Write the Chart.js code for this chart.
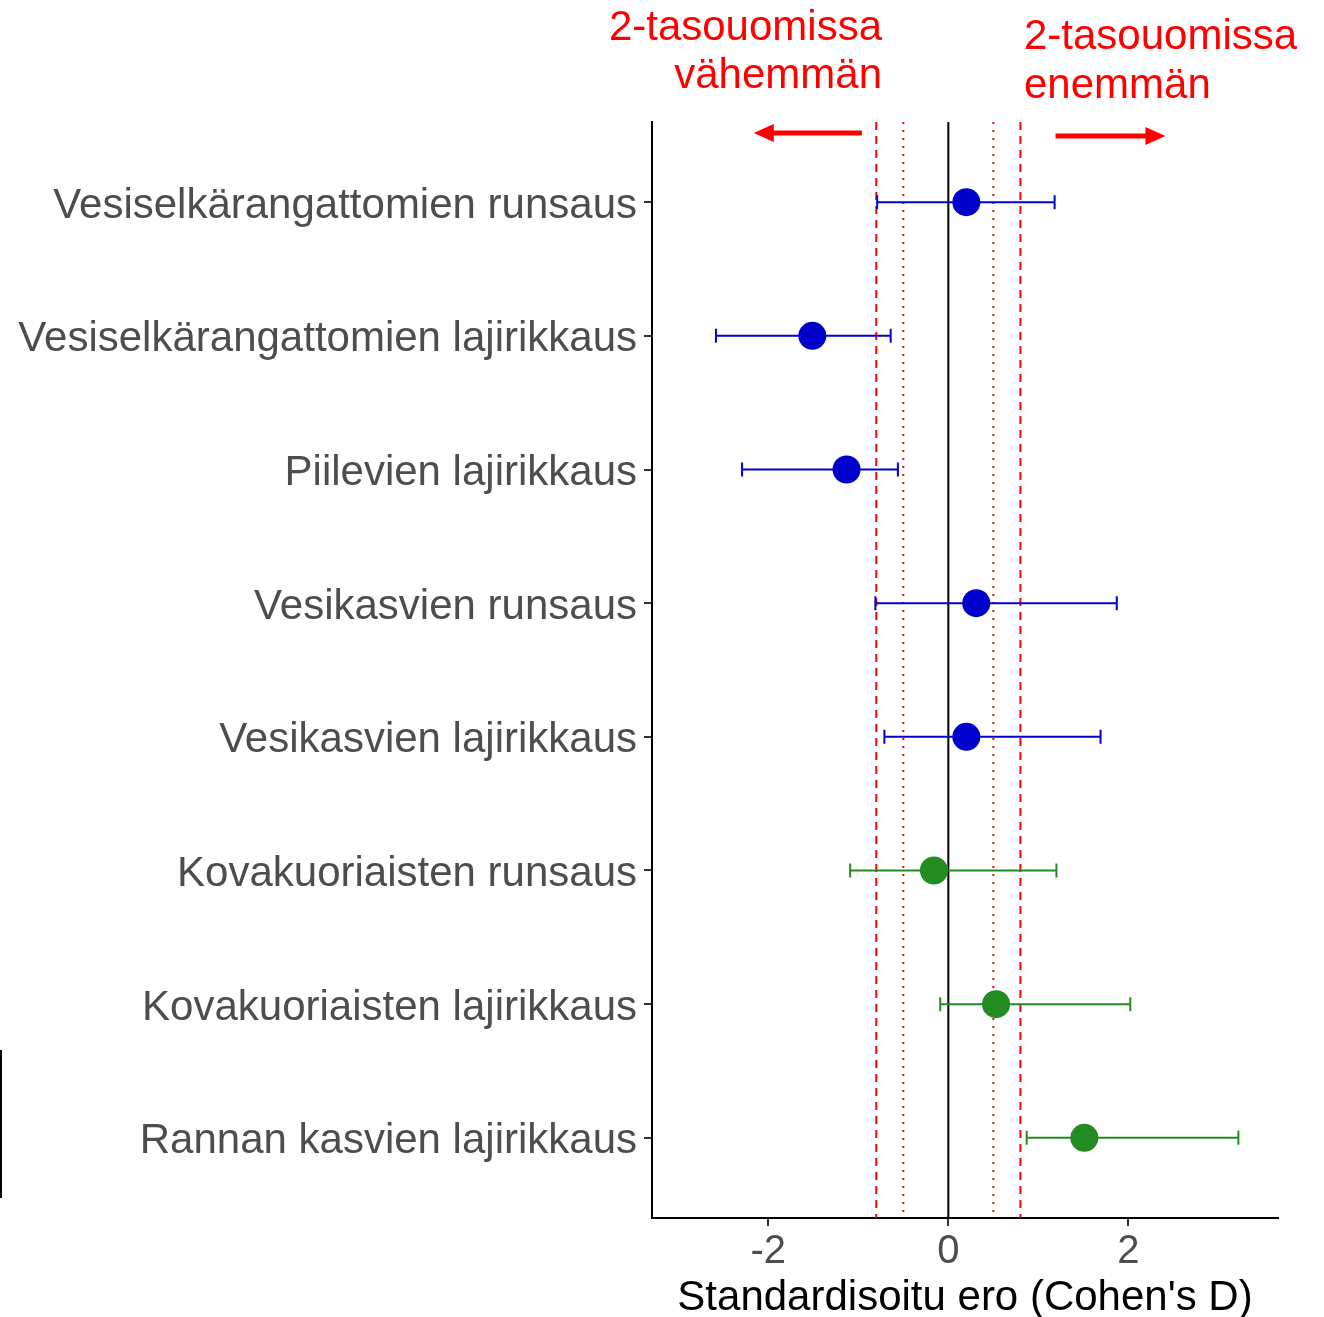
<!DOCTYPE html>
<html>
<head>
<meta charset="utf-8">
<script src="https://cdn.jsdelivr.net/npm/chart.js@4.4.0/dist/chart.umd.min.js"></script>
<style>
  body { margin: 0; background: #fff; }
  canvas { display: block; }
</style>
</head>
<body>
<canvas id="chart" width="1324" height="1317"></canvas>
<script>
// data
const categories = [
    "Vesiselkärangattomien runsaus",
    "Vesiselkärangattomien lajirikkaus",
    "Piilevien lajirikkaus",
    "Vesikasvien runsaus",
    "Vesikasvien lajirikkaus",
    "Kovakuoriaisten runsaus",
    "Kovakuoriaisten lajirikkaus",
    "Rannan kasvien lajirikkaus"
];
const effect = [0.20, -1.51, -1.13, 0.31, 0.20, -0.16, 0.53, 1.51];
const lower  = [-0.79, -2.58, -2.29, -0.81, -0.71, -1.09, -0.09, 0.87];
const upper  = [1.18, -0.64, -0.56, 1.87, 1.69, 1.20, 2.02, 3.22];
const group  = ["vesi", "vesi", "vesi", "vesi", "vesi", "ranta", "ranta", "ranta"];
const xTicks = [-2, 0, 2];
const dashedRefs = [-0.8, 0.8];
const dottedRefs = [-0.5, 0.5];

const groupColor = { vesi: "#0000CD", ranta: "#228B22" };
const FONT = "'Liberation Sans', Arial, sans-serif";

// reference lines + error bars, behind the points
const refLines = {
    id: "refLines",
    beforeDatasetsDraw(chart) {
        const { ctx, chartArea: a, scales: { x } } = chart;
        ctx.save();
        ctx.strokeStyle = "#ff0000";
        ctx.lineWidth = 2;
        ctx.setLineDash([8, 6]);
        dashedRefs.forEach(v => {
            const px = x.getPixelForValue(v);
            ctx.beginPath(); ctx.moveTo(px, a.top); ctx.lineTo(px, a.bottom); ctx.stroke();
        });
        ctx.setLineDash([2, 6]);
        dottedRefs.forEach(v => {
            const px = x.getPixelForValue(v);
            ctx.beginPath(); ctx.moveTo(px, a.top); ctx.lineTo(px, a.bottom); ctx.stroke();
        });
        ctx.setLineDash([]);
        ctx.strokeStyle = "#000";
        const z = x.getPixelForValue(0);
        ctx.beginPath(); ctx.moveTo(z, a.top); ctx.lineTo(z, a.bottom); ctx.stroke();

        effect.forEach((_, i) => {
            const y = chart.scales.y.getPixelForValue(i + 1);
            const x0 = x.getPixelForValue(lower[i]);
            const x1 = x.getPixelForValue(upper[i]);
            ctx.strokeStyle = groupColor[group[i]];
            ctx.lineWidth = 2;
            ctx.beginPath();
            ctx.moveTo(x0, y); ctx.lineTo(x1, y);
            ctx.moveTo(x0, y - 7); ctx.lineTo(x0, y + 7);
            ctx.moveTo(x1, y - 7); ctx.lineTo(x1, y + 7);
            ctx.stroke();
        });
        ctx.restore();
    }
};

// red notes and arrows above the plot
const notes = {
    id: "notes",
    afterDraw(chart) {
        const { ctx, scales: { x } } = chart;
        ctx.save();
        ctx.fillStyle = "#ff0000";
        ctx.font = "42px " + FONT;
        ctx.textBaseline = "alphabetic";
        ctx.textAlign = "right";
        ctx.fillText("2-tasouomissa", 882, 40);
        ctx.fillText("vähemmän", 882, 88);
        ctx.textAlign = "left";
        ctx.fillText("2-tasouomissa", 1024, 49);
        ctx.fillText("enemmän", 1024, 98);

        const arrow = (fromV, toV, y) => {
            const x0 = x.getPixelForValue(fromV);
            const x1 = x.getPixelForValue(toV);
            const dir = Math.sign(x1 - x0);
            ctx.strokeStyle = "#ff0000";
            ctx.lineWidth = 5;
            ctx.beginPath(); ctx.moveTo(x0, y); ctx.lineTo(x1 - dir * 18, y); ctx.stroke();
            ctx.beginPath();
            ctx.moveTo(x1, y);
            ctx.lineTo(x1 - dir * 20, y - 9);
            ctx.lineTo(x1 - dir * 20, y + 9);
            ctx.closePath(); ctx.fill();
        };
        arrow(-0.96, -2.16, 133);
        arrow(1.19, 2.41, 136);

        // stray black bar at the left edge
        ctx.fillStyle = "#000";
        ctx.fillRect(0, 1050, 2, 148);
        ctx.restore();
    }
};

new Chart(document.getElementById("chart"), {
    type: "scatter",
    data: {
        datasets: [{
            data: effect.map((v, i) => ({ x: v, y: i + 1 })),
            backgroundColor: group.map(g => groupColor[g]),
            borderColor: group.map(g => groupColor[g]),
            pointRadius: 14,
            pointHoverRadius: 14,
            borderWidth: 0
        }]
    },
    options: {
        responsive: false,
        animation: false,
        events: [],
        layout: { padding: { top: 122, right: 46, left: 0, bottom: 0 } },
        plugins: { legend: { display: false }, tooltip: { enabled: false } },
        scales: {
            x: {
                type: "linear",
                min: -3.29,
                max: 3.66,
                afterBuildTicks: s => { s.ticks = xTicks.map(v => ({ value: v })); },
                ticks: { color: "#4d4d4d", font: { family: FONT, size: 40, lineHeight: 1 }, padding: 6 },
                grid: { drawOnChartArea: false, tickLength: 8, color: "#333", lineWidth: 2 },
                border: { color: "#000", width: 2 },
                title: {
                    display: true,
                    text: "Standardisoitu ero (Cohen's D)",
                    color: "#000",
                    font: { family: FONT, size: 42, lineHeight: 1 },
                    padding: { top: 0, bottom: -2 }
                },
                afterFit: s => { s.height = 99; }
            },
            y: {
                type: "linear",
                min: 0.4,
                max: 8.6,
                reverse: true,
                afterBuildTicks: s => { s.ticks = categories.map((_, i) => ({ value: i + 1 })); },
                ticks: {
                    color: "#4d4d4d",
                    font: { family: FONT, size: 42 },
                    padding: 7,
                    labelOffset: 4,
                    callback: v => categories[v - 1]
                },
                grid: { drawOnChartArea: false, tickLength: 8, color: "#333", lineWidth: 2 },
                border: { color: "#000", width: 2 },
                afterFit: s => { s.width = 652; }
            }
        }
    },
    plugins: [refLines, notes]
});
</script>
</body>
</html>
